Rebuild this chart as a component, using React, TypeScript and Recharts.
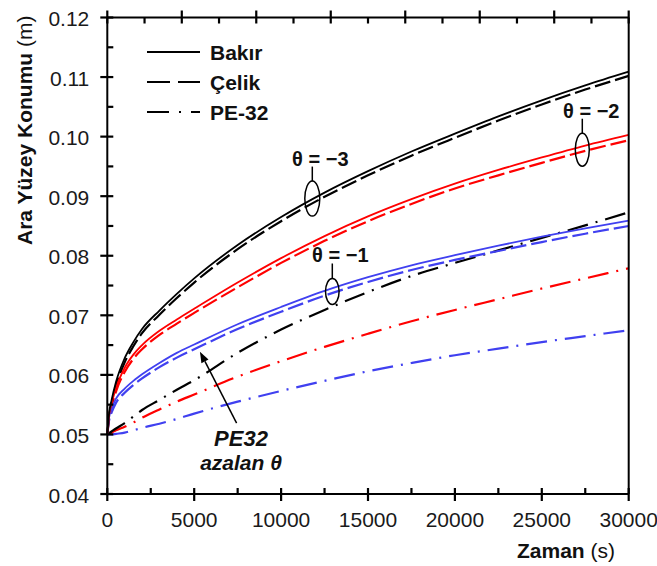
import React from 'react';
import { LineChart, Line, XAxis, YAxis, ReferenceDot, ReferenceLine } from 'recharts';

// time (s)
const times = [0, 100, 250, 500, 1000, 1500, 2000, 3000, 4000, 5000, 7500, 10000, 12500, 15000, 17500, 20000, 22500, 25000, 27500, 30000];

// interface position (m)
const bakir3 = [0.05, 0.0535, 0.0558, 0.0588, 0.0628, 0.0655, 0.0677, 0.0708, 0.0736, 0.0762, 0.0818, 0.0865, 0.0906, 0.0942, 0.0975, 0.1005, 0.1034, 0.1061, 0.1086, 0.1109];
const celik3 = [0.05, 0.053, 0.0552, 0.0581, 0.0621, 0.0648, 0.067, 0.0701, 0.0729, 0.0755, 0.0811, 0.0858, 0.0899, 0.0935, 0.0968, 0.0998, 0.1027, 0.1054, 0.1079, 0.1102];
const pe3 = [0.05, 0.0502, 0.0505, 0.051, 0.0519, 0.053, 0.0541, 0.0558, 0.0575, 0.0591, 0.0637, 0.0676, 0.0709, 0.0739, 0.0766, 0.0788, 0.0809, 0.083, 0.0851, 0.0873];

const bakir2 = [0.05, 0.0532, 0.0552, 0.0578, 0.0612, 0.0634, 0.065, 0.0674, 0.0693, 0.0711, 0.0755, 0.0796, 0.0833, 0.0866, 0.0895, 0.0921, 0.0944, 0.0965, 0.0985, 0.1003];
const celik2 = [0.05, 0.0527, 0.0547, 0.0572, 0.0605, 0.0627, 0.0643, 0.0667, 0.0686, 0.0704, 0.0747, 0.0788, 0.0825, 0.0858, 0.0887, 0.0913, 0.0935, 0.0956, 0.0976, 0.0994];
const pe2 = [0.05, 0.0501, 0.0503, 0.0507, 0.0513, 0.052, 0.0528, 0.0542, 0.0555, 0.0567, 0.0597, 0.0623, 0.0647, 0.0669, 0.069, 0.0709, 0.0727, 0.0745, 0.0762, 0.0779];

const bakir1 = [0.05, 0.0528, 0.0543, 0.056, 0.0577, 0.059, 0.0601, 0.062, 0.0637, 0.0651, 0.0685, 0.0714, 0.0741, 0.0764, 0.0784, 0.0801, 0.0817, 0.0832, 0.0846, 0.0859];
const celik1 = [0.05, 0.0523, 0.0537, 0.0553, 0.057, 0.0583, 0.0594, 0.0613, 0.0629, 0.0643, 0.0677, 0.0706, 0.0733, 0.0756, 0.0776, 0.0793, 0.0808, 0.0823, 0.0837, 0.085];
const pe1 = [0.05, 0.05, 0.05, 0.0501, 0.0503, 0.0507, 0.0511, 0.0518, 0.0526, 0.0535, 0.0555, 0.0573, 0.059, 0.0606, 0.062, 0.0633, 0.0644, 0.0655, 0.0665, 0.0675];

// axis ticks
const xTicks = [0, 2500, 5000, 7500, 10000, 12500, 15000, 17500, 20000, 22500, 25000, 27500, 30000];
const topTicks = [0, 2143, 4286, 6429, 8571, 10714, 12857, 15000, 17143, 19286, 21429, 23571, 25714, 27857, 30000];
const yTicks = [0.04, 0.045, 0.05, 0.055, 0.06, 0.065, 0.07, 0.075, 0.08, 0.085, 0.09, 0.095, 0.1, 0.105, 0.11, 0.115, 0.12];

const data = times.map((t, i) => ({
  t,
  bakir3: bakir3[i], celik3: celik3[i], pe3: pe3[i],
  bakir2: bakir2[i], celik2: celik2[i], pe2: pe2[i],
  bakir1: bakir1[i], celik1: celik1[i], pe1: pe1[i],
}));

const BLACK = '#000000';
const RED = '#ff0000';
const BLUE = '#4040f0';
const DASH = '16 5';
const DASHDOT = '21 8 2 8';
const FONT = '"Liberation Sans", Arial, sans-serif';
const tickText = { fontFamily: FONT, fontSize: 21, fill: '#1a1a1a' };
const Y_DOMAIN = [0.04, 0.12];
const X_DOMAIN = [0, 30000];
const axisLine = { stroke: BLACK, strokeWidth: 2 };
const TW = 2.2; // tick stroke
const OUT = 7; // major tick, outside part
const IN = 6; // tick, inside part

const isMajorY = (v: number) => Math.abs(v * 100 - Math.round(v * 100)) < 1e-6;
const isMajorX = (v: number) => v % 5000 === 0;

function LeftTick(props: any) {
  const { x, y, payload } = props;
  const major = isMajorY(payload.value);
  return (
    <g>
      <path d={`M${major ? x - OUT : x},${y}H${x + IN}`} stroke={BLACK} strokeWidth={TW} fill="none" />
      {major && (
        <text x={x - 18} y={y + 8.5} textAnchor="end" {...tickText}>
          {payload.value.toFixed(2)}
        </text>
      )}
    </g>
  );
}

function RightTick(props: any) {
  const { x, y, payload } = props;
  const major = isMajorY(payload.value);
  return <path d={`M${x - IN},${y}H${major ? x + OUT : x}`} stroke={BLACK} strokeWidth={TW} fill="none" />;
}

function BottomTick(props: any) {
  const { x, y, payload } = props;
  const major = isMajorX(payload.value);
  return (
    <g>
      <path d={`M${x},${y - IN}V${major ? y + OUT : y}`} stroke={BLACK} strokeWidth={TW} fill="none" />
      {major && (
        <text x={x} y={y + 33} textAnchor="middle" {...tickText}>
          {payload.value}
        </text>
      )}
    </g>
  );
}

function TopTick(props: any) {
  const { x, y, index } = props;
  const major = index % 2 === 0;
  return <path d={`M${x},${major ? y - OUT : y}V${y + IN}`} stroke={BLACK} strokeWidth={TW} fill="none" />;
}

// ellipse with a stem and θ label above it
const thetaMark = (label: string, rx: number, ry: number, dx: number, dy: number) => (p: any) => {
  const { cx, cy } = p;
  return (
    <g>
      <ellipse cx={cx} cy={cy} rx={rx} ry={ry} fill="none" stroke={BLACK} strokeWidth={1.5} />
      <line x1={cx} x2={cx} y1={cy - ry} y2={cy + dy + 1} stroke={BLACK} strokeWidth={1.5} />
      <text x={cx + dx} y={cy + dy} textAnchor="middle" fontFamily={FONT} fontSize={20} fontWeight="bold" fill="#111">
        {label}
      </text>
    </g>
  );
};

function Arrow(p: any) {
  const { x1, y1, x2, y2 } = p;
  const ang = Math.atan2(y2 - y1, x2 - x1);
  const L = 11;
  const W = 4;
  const bx = x2 - L * Math.cos(ang);
  const by = y2 - L * Math.sin(ang);
  const nx = -Math.sin(ang) * W;
  const ny = Math.cos(ang) * W;
  return (
    <g>
      <line x1={x1} y1={y1} x2={bx} y2={by} stroke={BLACK} strokeWidth={1.5} />
      <polygon points={`${x2},${y2} ${bx + nx},${by + ny} ${bx - nx},${by - ny}`} fill={BLACK} />
    </g>
  );
}

function Overlay() {
  return (
    <svg width={657} height={566} style={{ position: 'absolute', left: 0, top: 0, pointerEvents: 'none' }}>
      {/* legend */}
      <line x1={147} x2={200} y1={52} y2={52} stroke={BLACK} strokeWidth={2.2} />
      <line x1={147} x2={200} y1={82} y2={82} stroke={BLACK} strokeWidth={2.2} strokeDasharray="23 8" />
      <line x1={147} x2={200} y1={112} y2={112} stroke={BLACK} strokeWidth={2.2} strokeDasharray="22 10 2 10" />
      <g fontFamily={FONT} fontSize={21} fontWeight="bold" fill="#111">
        <text x={210} y={60}>Bakır</text>
        <text x={210} y={90}>Çelik</text>
        <text x={210} y={120}>PE-32</text>
      </g>
      {/* axis titles */}
      <text x={32} y={245} transform="rotate(-90 32 245)" fontFamily={FONT} fontSize={21} fill="#111">
        <tspan fontWeight="bold">Ara Yüzey Konumu</tspan>
        <tspan> (m)</tspan>
      </text>
      <text x={517} y={558} fontFamily={FONT} fontSize={21} fill="#111">
        <tspan fontWeight="bold">Zaman</tspan>
        <tspan> (s)</tspan>
      </text>
      {/* PE32 note */}
      <g fontFamily={FONT} fontWeight="bold" fontStyle="italic" fill="#111" textAnchor="middle">
        <text x={241} y={446} fontSize={22}>PE32</text>
        <text x={241} y={470} fontSize={21}>azalan θ</text>
      </g>
    </svg>
  );
}

export default function App() {
  return (
    <div style={{ position: 'absolute', left: 0, top: 0, width: 657, height: 566, background: '#fff' }}>
      <LineChart width={657} height={566} data={data} margin={{ top: 7.5, right: 18.3, left: 0.3, bottom: 0 }}>
        <XAxis dataKey="t" type="number" domain={X_DOMAIN} ticks={xTicks} interval={0} height={72}
          tickSize={0} tickMargin={0} tickLine={false} axisLine={axisLine} tick={<BottomTick />} />
        <XAxis xAxisId="top" orientation="top" dataKey="t" type="number" domain={X_DOMAIN} ticks={topTicks} interval={0} height={10}
          tickSize={0} tickMargin={0} tickLine={false} axisLine={axisLine} tick={<TopTick />} />
        <YAxis type="number" domain={Y_DOMAIN} ticks={yTicks} interval={0} width={107}
          tickSize={0} tickMargin={0} tickLine={false} axisLine={axisLine} tick={<LeftTick />} />
        <YAxis yAxisId="right" orientation="right" type="number" domain={Y_DOMAIN} ticks={yTicks} interval={0} width={10}
          tickSize={0} tickMargin={0} tickLine={false} axisLine={axisLine} tick={<RightTick />} />

        <Line dataKey="pe1" stroke={BLUE} strokeWidth={2.2} strokeDasharray={DASHDOT} dot={false} activeDot={false} type="monotone" isAnimationActive={false} />
        <Line dataKey="pe2" stroke={RED} strokeWidth={2.2} strokeDasharray={DASHDOT} dot={false} activeDot={false} type="monotone" isAnimationActive={false} />
        <Line dataKey="pe3" stroke={BLACK} strokeWidth={2.2} strokeDasharray={DASHDOT} dot={false} activeDot={false} type="monotone" isAnimationActive={false} />
        <Line dataKey="celik1" stroke={BLUE} strokeWidth={2.2} strokeDasharray={DASH} dot={false} activeDot={false} type="monotone" isAnimationActive={false} />
        <Line dataKey="celik2" stroke={RED} strokeWidth={2.2} strokeDasharray={DASH} dot={false} activeDot={false} type="monotone" isAnimationActive={false} />
        <Line dataKey="celik3" stroke={BLACK} strokeWidth={2.2} strokeDasharray={DASH} dot={false} activeDot={false} type="monotone" isAnimationActive={false} />
        <Line dataKey="bakir1" stroke={BLUE} strokeWidth={1.8} dot={false} activeDot={false} type="monotone" isAnimationActive={false} />
        <Line dataKey="bakir2" stroke={RED} strokeWidth={1.8} dot={false} activeDot={false} type="monotone" isAnimationActive={false} />
        <Line dataKey="bakir3" stroke={BLACK} strokeWidth={1.8} dot={false} activeDot={false} type="monotone" isAnimationActive={false} />

        <ReferenceDot x={11795} y={0.0896} r={0} shape={thetaMark('θ = −3', 7.5, 17.5, 8, -33)} />
        <ReferenceDot x={27330} y={0.0978} r={0} shape={thetaMark('θ = −2', 7, 16.5, 9, -32)} />
        <ReferenceDot x={12946} y={0.0740} r={0} shape={thetaMark('θ = −1', 6.8, 13, 8, -29)} />
        <ReferenceLine
          segment={[{ x: 7440, y: 0.0519 }, { x: 5330, y: 0.0639 }]}
          shape={<Arrow />}
        />
      </LineChart>
      <Overlay />
    </div>
  );
}
